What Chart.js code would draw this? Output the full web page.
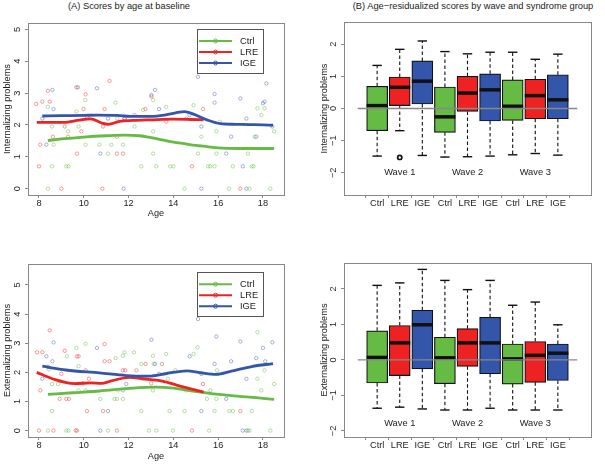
<!DOCTYPE html>
<html>
<head>
<meta charset="utf-8">
<script src="https://cdn.jsdelivr.net/npm/chart.js@4/dist/chart.umd.min.js"></script>
<style>
body { margin: 0; background: #fff; }
#wrap { position: relative; width: 605px; height: 465px; font-family: "Liberation Sans", Arial, sans-serif; }
canvas { position: absolute; }
.ttl { position: absolute; top: 1px; font-size: 9.3px; line-height: 11px; white-space: nowrap; color: #222; transform: translateX(-50%); }
</style>
</head>
<body>
<div id="wrap">
  <div class="ttl" style="left:129px">(A) Scores by age at baseline</div>
  <div class="ttl" style="left:473px">(B) Age&#8722;residualized scores by wave and syndrome group</div>
  <canvas id="cA" width="302" height="232" style="left:0;top:0"></canvas>
  <canvas id="cB" width="303" height="232" style="left:302px;top:0"></canvas>
  <canvas id="cC" width="302" height="233" style="left:0;top:232px"></canvas>
  <canvas id="cD" width="303" height="233" style="left:302px;top:232px"></canvas>
</div>
<script>
var groups = ['Ctrl', 'LRE', 'IGE'];
var groupColors = ['#66bb44', '#ee2222', '#3355aa'];
var pointColors = ['rgba(102,187,68,0.6)', 'rgba(238,34,34,0.55)', 'rgba(51,85,170,0.55)'];
var ageTicks = [8, 10, 12, 14, 16, 18];
var scoreTicks = [0, 1, 2, 3, 4, 5];
var residTicks = [-2, -1, 0, 1, 2];
var boxPos = [1, 2, 3, 4, 5, 6, 7, 8, 9];
var boxLabels = ['Ctrl', 'LRE', 'IGE', 'Ctrl', 'LRE', 'IGE', 'Ctrl', 'LRE', 'IGE'];
var waveLabels = ['Wave 1', 'Wave 2', 'Wave 3'];
var wavePos = [2, 5, 8];

// (A) internalizing, [age, score]
var intCtrlPts = [[8.4,0],[8.58,0.7],[8.4,2.57],[8.58,1.95],[8.65,1.38],[9.22,0.7],[9.32,0.7],[9.3,1.8],[9.67,2.42],[9.77,1.95],[10.07,2.78],[10.08,1.38],[10.7,1.38],[11.08,1.1],[11.23,1.38],[11.42,2.7],[11.5,2.2],[11.75,1.38],[12.27,1.95],[12.57,0.7],[12.65,2.47],[13.1,1.8],[13.1,1.1],[13.1,2.78],[13.24,0.7],[13.68,2.57],[13.86,0.7],[14.0,0.7],[14.5,0],[14.9,2.62],[15.1,1.1],[15.25,1.63],[15.55,0.7],[15.65,0.7],[15.84,0.7],[15.92,1.1],[15.92,1.8],[16.07,2.1],[16.48,0],[16.66,0.7],[17.33,1.1],[17.4,0],[17.5,0.7],[17.58,0.7],[17.63,1.63],[17.75,2.52],[17.93,2.31],[18.07,2.52],[18.33,0],[18.5,1.8]];
var intLrePts = [[7.88,2.66],[8.0,0.7],[8.06,1.38],[8.15,2.73],[8.4,3.07],[8.48,2.73],[8.62,1.63],[9.0,0],[9.15,1.95],[9.3,1.63],[9.67,3.18],[9.7,1.1],[9.89,1.8],[9.99,2.5],[10.08,2.96],[10.14,2.26],[10.83,0],[10.86,1.95],[10.93,2.5],[11.15,3.38],[11.48,1.63],[11.48,1.1],[11.75,1.1],[11.82,2.2],[12.27,2.31],[12.75,2.5],[13.02,2.89],[13.68,2.1],[14.83,0.7],[15.33,2.5],[16.99,0]];
var intIgePts = [[8.15,2.2],[8.33,1.38],[8.6,3.1],[8.65,2.5],[9.74,3.18],[10.59,3.15],[10.74,1.1],[11.08,2.2],[11.78,0],[11.82,2.2],[13.02,2.94],[13.18,3.1],[13.36,2.5],[14.57,2.2],[14.72,2.31],[15.1,3.51],[15.25,1.95],[15.25,0],[15.84,2.97],[15.84,2.7],[16.36,1.1],[16.58,1.63],[16.99,2.83],[17.1,0.7],[17.26,2.2],[17.26,0],[17.7,1.63],[18.0,2.68],[18.07,2.73],[18.15,3.3],[18.42,1.95]];

// smoothed fits (age, value)
var intCtrlFitAge = [8.4, 9, 10, 11, 11.8, 12.5, 13, 13.5, 14, 14.5, 15, 15.5, 16, 17, 18, 18.5];
var intCtrlFit = [1.51, 1.56, 1.62, 1.66, 1.68, 1.66, 1.6, 1.53, 1.46, 1.41, 1.36, 1.32, 1.28, 1.26, 1.26, 1.26];
var intLreFitAge = [7.9, 8.5, 9.1, 9.8, 10.3, 10.8, 11.1, 11.6, 12.2, 13, 14, 14.8, 15.35];
var intLreFit = [2.08, 2.08, 2.08, 2.15, 2.19, 2.06, 2.02, 2.11, 2.14, 2.16, 2.18, 2.17, 2.16];
var intIgeFitAge = [8.15, 9, 10, 10.6, 11.5, 12.1, 13, 13.6, 14.1, 14.5, 14.9, 15.5, 16.1, 16.8, 17.4, 18, 18.45];
var intIgeFit = [2.28, 2.29, 2.3, 2.31, 2.3, 2.27, 2.27, 2.31, 2.38, 2.42, 2.34, 2.16, 2.04, 2.02, 2.01, 2.0, 1.99];

// (A) externalizing, [age, score]
var extCtrlPts = [[8.4,0],[8.58,0.67],[8.58,1.6],[8.45,2.1],[8.85,1.6],[9.22,0],[9.32,0],[9.25,2.55],[9.67,2.84],[9.77,2.21],[9.77,1.38],[10.08,2.98],[10.08,1.38],[10.74,1.09],[11.08,0],[11.37,1.09],[11.48,1.09],[11.42,2.49],[11.52,1.38],[11.75,2.57],[11.82,2.69],[11.75,1.09],[12.24,2.69],[12.57,0.67],[12.57,2.29],[12.91,0],[13.09,2.57],[13.09,1.38],[13.12,2.29],[13.24,0],[13.68,2.63],[13.76,1.78],[13.83,0.67],[13.98,0],[14.09,2.07],[14.5,0.67],[14.57,1.38],[14.9,2.63],[15.08,2.86],[15.25,1.95],[15.5,1.09],[15.6,0],[15.65,1.38],[15.84,0.67],[15.92,1.09],[15.95,2.07],[16.5,0.67],[16.66,0.67],[17.33,0],[17.4,0],[17.5,0.67],[17.75,1.78],[17.75,3.38],[17.93,1.38],[18.07,2.07],[18.33,0],[18.5,1.6]];
var extLrePts = [[7.91,2.69],[8.0,0],[8.06,1.38],[8.15,2.69],[8.48,3.44],[8.4,2.19],[8.65,0],[8.92,1.09],[9.0,1.95],[9.15,2.74],[9.22,1.09],[9.34,1.09],[9.64,0],[9.7,0],[9.7,2.55],[9.77,2.55],[9.96,1.62],[10.08,2.07],[10.14,0.67],[10.23,1.78],[10.86,0.67],[10.93,2.97],[10.93,2.38],[11.15,2.38],[11.48,0],[11.75,2.07],[11.85,2.07],[12.35,2.07],[12.76,2.29],[13.01,1.62],[13.49,2.29],[14.83,0],[15.32,1.6],[16.99,0.67]];
var extIgePts = [[8.15,1.78],[8.33,2.55],[8.6,2.38],[8.65,3.03],[10.59,2.84],[10.74,0],[11.08,0.67],[11.75,1.38],[11.9,1.6],[13.02,3.12],[13.18,2.29],[13.36,1.95],[14.73,2.55],[15.1,3.83],[15.25,0.67],[15.25,1.95],[15.84,2.29],[15.92,3.23],[16.36,1.09],[16.58,2.38],[16.99,3.06],[17.1,0],[17.26,1.78],[17.26,0],[17.7,2.49],[18.0,2.84],[18.1,2.38],[18.42,3.03]];

var extCtrlFitAge = [8.4, 9.5, 10.7, 12.2, 13.2, 14, 14.6, 15.3, 15.9, 16.7, 17.4, 18.5];
var extCtrlFit = [1.24, 1.3, 1.36, 1.46, 1.49, 1.46, 1.39, 1.31, 1.25, 1.19, 1.15, 1.07];
var extLreFitAge = [7.9, 8.6, 9.6, 10.3, 10.8, 11.2, 12.05, 12.6, 13.5, 14.3, 15.35];
var extLreFit = [2.0, 1.78, 1.61, 1.64, 1.62, 1.7, 1.83, 1.78, 1.7, 1.53, 1.32];
var extIgeFitAge = [8.15, 9.2, 10.7, 11.9, 12.9, 13.7, 14.6, 15.2, 15.9, 16.6, 17.5, 18.45];
var extIgeFit = [2.21, 2.08, 1.98, 1.89, 1.87, 1.96, 2.05, 1.99, 1.93, 2.04, 2.2, 2.3];

// (B) boxplot stats, order Ctrl/LRE/IGE x wave 1..3
var intLow = [-1.48, -0.69, -1.46, -1.51, -1.5, -1.48, -1.44, -1.4, -1.45];
var intQ1 = [-0.69, 0.09, 0.14, -0.74, -0.09, -0.39, -0.37, -0.32, -0.32];
var intMed = [0.09, 0.66, 0.85, -0.26, 0.48, 0.58, 0.07, 0.4, 0.27];
var intQ3 = [0.69, 0.98, 1.48, 0.67, 1.0, 1.08, 0.89, 0.91, 1.05];
var intHigh = [1.34, 1.84, 2.1, 1.77, 1.7, 1.75, 1.75, 1.53, 1.69];
var intOutX = [2];
var intOutY = [-1.52];

var extLow = [-1.36, -1.33, -1.38, -1.41, -1.41, -1.36, -1.41, -1.41, -1.41];
var extQ1 = [-0.65, -0.44, -0.25, -0.67, -0.18, -0.39, -0.68, -0.63, -0.58];
var extMed = [0.07, 0.48, 0.99, 0.06, 0.48, 0.48, 0.03, 0.13, 0.19];
var extQ3 = [0.82, 0.97, 1.4, 0.64, 0.88, 1.2, 0.45, 0.52, 0.45];
var extHigh = [2.1, 2.17, 2.55, 2.24, 1.98, 2.24, 1.54, 1.63, 0.99];
var extOutX = [];
var extOutY = [];

Chart.defaults.font.family = '"Liberation Sans", Arial, sans-serif';
Chart.defaults.font.size = 9.2;
Chart.defaults.color = '#222';

var frame = {
    id: 'frame',
    afterDraw: function (chart) {
        var a = chart.chartArea, ctx = chart.ctx;
        ctx.save();
        ctx.strokeStyle = '#888';
        ctx.lineWidth = 1;
        ctx.strokeRect(Math.round(a.left) + 0.5, Math.round(a.top) + 0.5, Math.round(a.right - a.left), Math.round(a.bottom - a.top));
        ctx.restore();
    }
};

function legendBox(offTop) {
    return {
        id: 'legendBox',
        afterDraw: function (chart) {
            var a = chart.chartArea, ctx = chart.ctx;
            var bx = a.right - 87, by = a.top + offTop;
            ctx.save();
            ctx.strokeStyle = '#555';
            ctx.lineWidth = 1;
            ctx.strokeRect(Math.round(bx) + 0.5, Math.round(by) + 0.5, 66, 44);
            ctx.font = '9.3px "Liberation Sans", Arial, sans-serif';
            ctx.textBaseline = 'middle';
            for (var g = 0; g < groups.length; g++) {
                var y = by + 12.5 + 11 * g;
                ctx.strokeStyle = groupColors[g];
                ctx.lineWidth = 2;
                ctx.beginPath();
                ctx.moveTo(bx + 2, y);
                ctx.lineTo(bx + 35, y);
                ctx.stroke();
                ctx.lineWidth = 0.9;
                ctx.beginPath();
                ctx.arc(bx + 18.5, y, 2, 0, Math.PI * 2);
                ctx.stroke();
                ctx.fillStyle = '#222';
                ctx.fillText(groups[g], bx + 43, y + 0.5);
            }
            ctx.restore();
        }
    };
}

function waveText(yVal) {
    return {
        id: 'waveText',
        afterDatasetsDraw: function (chart) {
            var ctx = chart.ctx, sx = chart.scales.x, sy = chart.scales.y;
            ctx.save();
            ctx.font = '9.3px "Liberation Sans", Arial, sans-serif';
            ctx.fillStyle = '#222';
            ctx.textAlign = 'center';
            ctx.textBaseline = 'middle';
            for (var i = 0; i < waveLabels.length; i++) {
                ctx.fillText(waveLabels[i], sx.getPixelForValue(wavePos[i]), sy.getPixelForValue(yVal));
            }
            ctx.restore();
        }
    };
}

function yAxis(min, max, ticks, title, width, titlePad, tickPad) {
    return {
        type: 'linear', min: min, max: max, bounds: 'data',
        afterBuildTicks: function (s) { s.ticks = ticks.map(function (v) { return { value: v }; }); },
        afterFit: function (s) { s.width = width; },
        grid: { drawOnChartArea: false, tickLength: 3, color: '#888' },
        border: { display: false },
        ticks: {
            padding: tickPad, minRotation: 90, maxRotation: 90, crossAlign: 'center', autoSkip: false,
            callback: function (v) { return v < 0 ? '\u2212' + Math.abs(v) : String(v); }
        },
        title: { display: true, text: title, padding: { top: titlePad, bottom: 0 } }
    };
}

function xAxis(min, max, ticks, height, labels, title, titlePad) {
    return {
        type: 'linear', min: min, max: max, bounds: 'data',
        afterBuildTicks: function (s) { s.ticks = ticks.map(function (v) { return { value: v }; }); },
        afterFit: function (s) { s.height = height; },
        grid: { drawOnChartArea: false, tickLength: 3, color: '#888' },
        border: { display: false },
        ticks: {
            padding: 0, maxRotation: 0, autoSkip: false,
            callback: function (v) { return labels ? labels[v - 1] : String(v); }
        },
        title: { display: !!title, text: title || '', padding: { top: 0, bottom: titlePad || 0 } }
    };
}

function scatterChart(id, pts, fitAges, fits, yMin, yMax, yTitle, dims) {
    var datasets = [];
    for (var g = 0; g < groups.length; g++) {
        datasets.push({
            type: 'scatter',
            data: pts[g].map(function (p) { return { x: p[0], y: p[1] }; }),
            pointRadius: 1.7,
            pointBorderWidth: 0.8,
            pointBorderColor: pointColors[g],
            pointBackgroundColor: 'rgba(0,0,0,0)',
            order: 5
        });
    }
    for (var k = groups.length - 1; k >= 0; k--) {
        datasets.push({
            type: 'line',
            data: fitAges[k].map(function (a, i) { return { x: a, y: fits[k][i] }; }),
            borderColor: groupColors[k],
            borderWidth: 2.8,
            pointRadius: 0,
            cubicInterpolationMode: 'monotone',
            fill: false,
            order: 1
        });
    }
    return new Chart(document.getElementById(id), {
        type: 'scatter',
        data: { datasets: datasets },
        options: {
            responsive: false,
            animation: false,
            events: [],
            layout: { padding: { left: 0, right: dims.right, top: dims.top, bottom: 0 } },
            plugins: { legend: { display: false }, tooltip: { enabled: false } },
            scales: {
                x: xAxis(7.51, 18.94, ageTicks, dims.xH, null, 'Age', dims.xTitlePad),
                y: yAxis(yMin, yMax, scoreTicks, yTitle, 28, 1.5, 4.5)
            }
        },
        plugins: [frame, legendBox(dims.legTop)]
    });
}

function boxChart(id, low, q1, med, q3, high, outX, outY, yMin, yMax, yTitle, waveY, dims) {
    var whiskers = [];
    boxPos.forEach(function (x, i) {
        whiskers.push({ x: x, y: q3[i] }, { x: x, y: high[i] }, { x: x, y: null });
        whiskers.push({ x: x, y: q1[i] }, { x: x, y: low[i] }, { x: x, y: null });
    });
    var caps = [];
    boxPos.forEach(function (x, i) {
        caps.push({ x: x, y: low[i] }, { x: x, y: high[i] });
    });
    var datasets = [
        {
            type: 'line',
            data: [{ x: 0.14, y: 0 }, { x: 9.86, y: 0 }],
            borderColor: '#888',
            borderWidth: 1.3,
            pointRadius: 0,
            order: 0
        },
        {
            type: 'scatter',
            data: outX.map(function (x, i) { return { x: x, y: outY[i] }; }),
            pointRadius: 2.1,
            pointBorderWidth: 1.7,
            pointBorderColor: '#111',
            pointBackgroundColor: 'rgba(0,0,0,0)',
            order: 1
        },
        {
            type: 'scatter',
            data: boxPos.map(function (x, i) { return { x: x, y: med[i] }; }),
            pointStyle: 'line',
            pointRadius: 10.5,
            pointBorderWidth: 3.5,
            pointBorderColor: '#111',
            order: 2
        },
        {
            type: 'bar',
            data: boxPos.map(function (x, i) { return { x: x, y: [q1[i], q3[i]] }; }),
            backgroundColor: boxPos.map(function (x, i) { return groupColors[i % 3]; }),
            borderColor: '#111',
            borderWidth: 1.2,
            borderSkipped: false,
            barThickness: 21,
            order: 3
        },
        {
            type: 'scatter',
            data: caps,
            pointStyle: 'line',
            pointRadius: 4.7,
            pointBorderWidth: 1.4,
            pointBorderColor: '#111',
            order: 4
        },
        {
            type: 'line',
            data: whiskers,
            borderColor: '#111',
            borderWidth: 1.1,
            borderDash: [3.5, 2.5],
            pointRadius: 0,
            spanGaps: false,
            order: 5
        }
    ];
    return new Chart(document.getElementById(id), {
        type: 'scatter',
        data: { datasets: datasets },
        options: {
            responsive: false,
            animation: false,
            events: [],
            layout: { padding: { left: 0, right: dims.right, top: dims.top, bottom: 0 } },
            plugins: { legend: { display: false }, tooltip: { enabled: false } },
            scales: {
                x: xAxis(0.14, 9.86, boxPos, dims.xH, boxLabels, null, 0),
                y: yAxis(yMin, yMax, residTicks, yTitle, 42, 16.5, 2.8)
            }
        },
        plugins: [frame, waveText(waveY)]
    });
}

scatterChart('cA', [intCtrlPts, intLrePts, intIgePts], [intCtrlFitAge, intLreFitAge, intIgeFitAge], [intCtrlFit, intLreFit, intIgeFit],
    -0.2, 5.2, 'Internalizing problems', { right: 18, top: 23, xH: 37, xTitlePad: 13, legTop: 5.5 });
boxChart('cB', intLow, intQ1, intMed, intQ3, intHigh, intOutX, intOutY,
    -2.69, 2.69, 'Internalizing problems', -2, { right: 4, top: 22, xH: 37 });
scatterChart('cC', [extCtrlPts, extLrePts, extIgePts], [extCtrlFitAge, extLreFitAge, extIgeFitAge], [extCtrlFit, extLreFit, extIgeFit],
    -0.22, 5.72, 'Externalizing problems', { right: 18, top: 32, xH: 28, xTitlePad: 3.4, legTop: 7.7 });
boxChart('cD', extLow, extQ1, extMed, extQ3, extHigh, extOutX, extOutY,
    -2.17, 2.73, 'Externalizing problems', -1.8, { right: 4, top: 31, xH: 28 });
</script>
</body>
</html>
